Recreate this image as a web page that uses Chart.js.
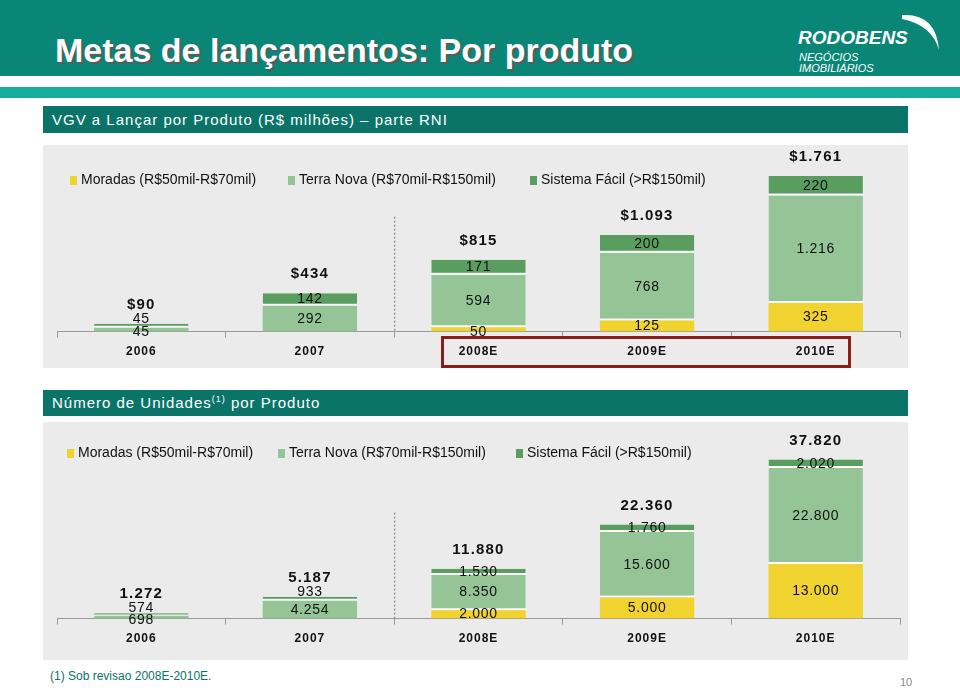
<!DOCTYPE html>
<html>
<head>
<meta charset="utf-8">
<script src="https://cdn.jsdelivr.net/npm/chart.js@4"></script>
<style>
  body { margin: 0; width: 960px; height: 688px; position: relative; overflow: hidden; background: #fff; font-family: "Liberation Sans", Arial, sans-serif; }
  .abs { position: absolute; }
  .topband { left: 0; top: 0; width: 960px; height: 76px; background: #0a8677; }
  .strip { left: 0; top: 87px; width: 960px; height: 11px; background: #17ad9c; }
  .title { left: 55px; top: 33px; font-size: 34px; line-height: 34px; font-weight: bold; color: #fff; text-shadow: 2px 2px 1px #5b5b5b; white-space: nowrap; }
  .logo1 { left: 798px; top: 28px; font-size: 19px; line-height: 19px; font-weight: bold; font-style: italic; color: #fff; }
  .logo2 { left: 799px; top: 52px; font-size: 11px; line-height: 11px; font-style: italic; color: #fff; }
  .secbar { left: 43px; width: 865px; background: #0b7468; color: #fff; font-size: 15px; letter-spacing: 1px; padding-left: 9px; box-sizing: border-box; white-space: nowrap; }
  .panel { left: 43px; width: 865px; background: #ebebeb; }
  .leg { font-size: 14px; color: #111; white-space: nowrap; line-height: 16px; }
  .leg i { display: inline-block; width: 7px; height: 9px; margin-right: 4px; vertical-align: -1px; }
  .redbox { left: 441px; top: 336px; width: 410px; height: 32px; border: 3px solid #8c1c1c; box-sizing: border-box; }
  .foot { left: 50px; top: 669px; font-size: 12px; color: #0b7468; }
  .pg { left: 900px; top: 676px; font-size: 11px; color: #888; }
  canvas { position: absolute; }
</style>
</head>
<body>
<div class="abs topband"></div>
<div class="abs strip"></div>
<div class="abs title">Metas de lançamentos: Por produto</div>
<div class="abs logo1">RODOBENS</div>
<div class="abs logo2">NEGÓCIOS<br>IMOBILIÁRIOS</div>
<svg class="abs" style="left:0;top:0" width="960" height="90">
  <path d="M902,15 Q936,13 939,50 Q932,25 902,19 Z" fill="#fff"/>
</svg>

<div class="abs secbar" style="top:106px;height:27px;line-height:27px;">VGV a Lançar por Produto (R$ milhões) – parte RNI</div>
<div class="abs panel" style="top:145px;height:223px;"></div>
<canvas id="vgvChart" width="865" height="223" style="left:43px;top:145px;"></canvas>
<div class="abs leg" style="left:70px;top:171px;"><i style="background:#f1d32f"></i>Moradas (R$50mil-R$70mil)</div>
<div class="abs leg" style="left:288px;top:171px;"><i style="background:#95c597"></i>Terra Nova (R$70mil-R$150mil)</div>
<div class="abs leg" style="left:530px;top:171px;"><i style="background:#5a9e5f"></i>Sistema Fácil (&gt;R$150mil)</div>
<div class="abs redbox"></div>

<div class="abs secbar" style="top:390px;height:26px;line-height:26px;">Número de Unidades<sup style="font-size:9px;line-height:0">(1)</sup> por Produto</div>
<div class="abs panel" style="top:422px;height:238px;"></div>
<canvas id="unidChart" width="865" height="238" style="left:43px;top:422px;"></canvas>
<div class="abs leg" style="left:67px;top:444px;"><i style="background:#f1d32f"></i>Moradas (R$50mil-R$70mil)</div>
<div class="abs leg" style="left:278px;top:444px;"><i style="background:#95c597"></i>Terra Nova (R$70mil-R$150mil)</div>
<div class="abs leg" style="left:516px;top:444px;"><i style="background:#5a9e5f"></i>Sistema Fácil (&gt;R$150mil)</div>

<div class="abs foot">(1) Sob revisao 2008E-2010E.</div>
<div class="abs pg">10</div>

<script>
// dados
const years = ['2006', '2007', '2008E', '2009E', '2010E'];
const vgvMoradas = [0, 0, 50, 125, 325];
const vgvTerraNova = [45, 292, 594, 768, 1216];
const vgvSistemaFacil = [45, 142, 171, 200, 220];
const unidMoradas = [0, 0, 2000, 5000, 13000];
const unidTerraNova = [698, 4254, 8350, 15600, 22800];
const unidSistemaFacil = [574, 933, 1530, 1760, 2020];

const corMoradas = '#f1d32f';
const corTerraNova = '#95c597';
const corSistema = '#5a9e5f';

function fmt(v) {
    return String(v).replace(/\B(?=(\d{3})+(?!\d))/g, '.');
}

// espaçamento das letras dos anos no eixo
const spacingPlugin = {
    id: 'tickSpacing',
    beforeDraw(chart) {
        chart.ctx.letterSpacing = '1px';
    }
};

// rótulos dos segmentos e totais
const labelPlugin = {
    id: 'segLabels',
    afterDatasetsDraw(chart, args, opts) {
        const ctx = chart.ctx;
        ctx.save();
        ctx.textAlign = 'center';
        ctx.textBaseline = 'middle';
        ctx.fillStyle = '#111';
        ctx.font = '14px "Liberation Sans", Arial, sans-serif';
        ctx.letterSpacing = '0.7px';
        chart.data.datasets.forEach((ds, di) => {
            chart.getDatasetMeta(di).data.forEach((bar, i) => {
                const v = ds.data[i];
                if (!v) return;
                const h = bar.base - bar.y;
                let y = (bar.y + bar.base) / 2;
                if (h < 5) y = di === 2 ? bar.y - 5 : y + 3;
                ctx.fillText(fmt(v), bar.x, y);
            });
        });
        ctx.font = 'bold 15px "Liberation Sans", Arial, sans-serif';
        ctx.letterSpacing = '1.2px';
        const topMeta = chart.getDatasetMeta(2);
        topMeta.data.forEach((bar, i) => {
            const total = chart.data.datasets.reduce((s, ds) => s + ds.data[i], 0);
            ctx.fillText(opts.prefix + fmt(total), bar.x, bar.y - 19);
        });
        // linha tracejada entre realizado e projetado
        const xs = chart.scales.x, ys = chart.scales.y;
        const xd = (xs.getPixelForValue(1) + xs.getPixelForValue(2)) / 2;
        ctx.strokeStyle = '#777';
        ctx.lineWidth = 1;
        ctx.setLineDash([2, 2]);
        ctx.beginPath();
        ctx.moveTo(xd + 0.5, ys.getPixelForValue(opts.dividerFrom));
        ctx.lineTo(xd + 0.5, ys.getPixelForValue(0));
        ctx.stroke();
        ctx.restore();
    }
};

function makeChart(id, moradas, terraNova, sistema, yMax, pad, prefix, dividerFrom) {
    return new Chart(document.getElementById(id), {
        type: 'bar',
        data: {
            labels: years,
            datasets: [
                { label: 'Moradas (R$50mil-R$70mil)', data: moradas, backgroundColor: corMoradas, borderWidth: 0 },
                {
                    label: 'Terra Nova (R$70mil-R$150mil)', data: terraNova, backgroundColor: corTerraNova,
                    borderColor: '#fff', borderSkipped: false,
                    borderWidth: c => ({ top: 0, left: 0, right: 0, bottom: moradas[c.dataIndex] > 0 ? 2 : 0 })
                },
                {
                    label: 'Sistema Fácil (>R$150mil)', data: sistema, backgroundColor: corSistema,
                    borderColor: '#fff', borderSkipped: false,
                    borderWidth: { top: 0, left: 0, right: 0, bottom: 2 }
                }
            ]
        },
        options: {
            responsive: false,
            devicePixelRatio: 1,
            animation: false,
            layout: { padding: pad },
            datasets: { bar: { categoryPercentage: 1, barPercentage: 0.56 } },
            plugins: {
                legend: { display: false },
                tooltip: { enabled: false },
                segLabels: { prefix: prefix, dividerFrom: dividerFrom }
            },
            scales: {
                x: {
                    stacked: true,
                    grid: { display: true, drawOnChartArea: false, drawTicks: true, tickLength: 6, color: '#9a9a9a', offset: true },
                    border: { display: true, color: '#9a9a9a' },
                    ticks: { color: '#111', padding: 7, font: { family: '"Liberation Sans", Arial', size: 12, weight: 'bold' } }
                },
                y: { stacked: true, display: false, min: 0, max: yMax }
            }
        },
        plugins: [spacingPlugin, labelPlugin]
    });
}

makeChart('vgvChart', vgvMoradas, vgvTerraNova, vgvSistemaFacil, 2000,
    { top: 10, left: 14, right: 8, bottom: 2 }, '$', 1300);
makeChart('unidChart', unidMoradas, unidTerraNova, unidSistemaFacil, 42000,
    { top: 20, left: 14, right: 8, bottom: 7 }, '', 25200);
</script>
</body>
</html>
